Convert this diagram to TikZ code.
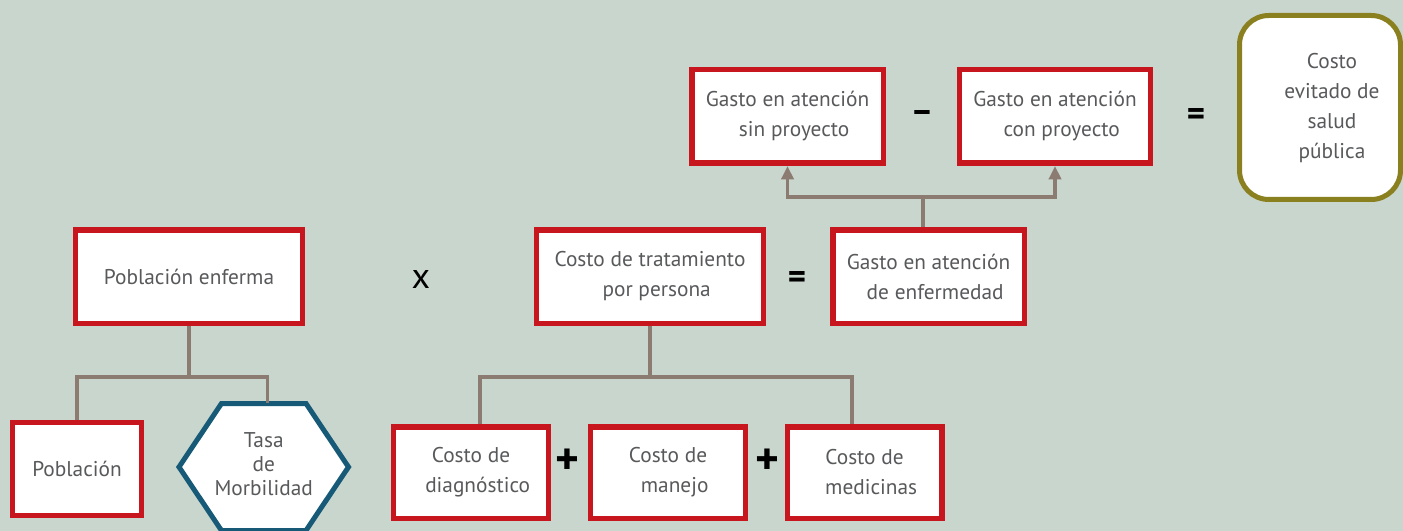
\documentclass[tikz,border=0pt]{standalone}
\usepackage{fontspec}
\setmainfont{PT Sans}
\usetikzlibrary{arrows.meta}

\definecolor{fondo}{RGB}{201,214,205}
\definecolor{rojo}{RGB}{200,22,30}
\definecolor{oliva}{RGB}{138,128,32}
\definecolor{azul}{RGB}{22,90,120}
\definecolor{cafe}{RGB}{139,123,113}
\definecolor{texto}{RGB}{88,89,91}

\newcommand{\sangria}{\hspace*{10pt}}

\tikzset{
  caja/.style={draw=rojo, line width=4.1pt, fill=white, text=texto, align=center,
    inner sep=0pt, font=\fontsize{16}{22.5}\selectfont},
  final/.style={draw=oliva, line width=3.75pt, fill=white, text=texto,
    rounded corners=22pt, inner sep=0pt, font=\fontsize{16}{22.5}\selectfont},
  hexa/.style={draw=azul, line width=3.75pt, fill=white},
  operador/.style={inner sep=0pt, text=black, font=\fontsize{26}{26}\selectfont\bfseries},
  linea/.style={draw=cafe, line width=2.5pt},
  flecha/.style={linea, -{Triangle[length=10pt,width=9pt]}}
}

\begin{document}
\begin{tikzpicture}[x=0.75pt,y=0.75pt,yscale=-1,xscale=1]
\useasboundingbox (0,0) rectangle (1403,531);
\clip (0,0) rectangle (1403,531);
\fill[fondo] (0,0) rectangle (1403,531);

% fila de arriba
\node[caja, minimum width=143.6pt, minimum height=70.1pt] (sinproy) at (787.5,116.5) {Gasto en atención\\ \sangria sin proyecto};
\node[caja, minimum width=143.6pt, minimum height=70.1pt] (conproy) at (1055,116.5) {Gasto en atención\\ \sangria con proyecto};
\node[final, minimum width=120.75pt, minimum height=138pt] (evitado) at (1320,107.5)
  {\hspace*{18pt}\begin{tabular}{@{}c@{}}Costo\\ evitado de\\ salud\\ pública\end{tabular}};
\node[operador] (menos) at (922,117) {--};
\node[operador] (igualA) at (1196,117) {=};

% fila del medio
\node[caja, minimum width=169.9pt, minimum height=70.1pt] (pobenf) at (189,276.5) {Población enferma};
\node[caja, minimum width=169.9pt, minimum height=70.1pt] (tratam) at (650,276.5) {Costo de tratamiento\\ \sangria por persona};
\node[caja, minimum width=143.6pt, minimum height=70.1pt] (gastoenf) at (928.5,276.5) {Gasto en atención\\ \sangria de enfermedad};
\node[operador, font=\fontsize{27}{27}\selectfont] (por) at (421,279) {x};
\node[operador] (igualB) at (797,280) {=};

% fila de abajo
\node[caja, minimum width=96.4pt, minimum height=69.4pt] (poblacion) at (77,469) {Población};
\draw[hexa] (179,467) -- (221.5,403.5) -- (306,403.5) -- (348.5,467) -- (306,530.5) -- (221.5,530.5) -- cycle;
\node[text=texto, align=center, inner sep=0pt, font=\fontsize{16}{18}\selectfont] (tasa) at (263.7,464) {Tasa\\ de\\ Morbilidad};
\coordinate (hexarriba) at (267.7,403);
\node[caja, minimum width=115.9pt, minimum height=68.6pt] (diagn) at (471,472.5) {Costo de\\ \sangria diagnóstico};
\node[caja, minimum width=115.9pt, minimum height=68.6pt] (manejo) at (668,472.5) {Costo de\\ \sangria manejo};
\node[caja, minimum width=115.9pt, minimum height=68.6pt] (medic) at (864.5,472.5) {Costo de\\ \sangria medicinas};
\node[operador, font=\fontsize{34}{34}\selectfont\bfseries] (masA) at (567,462) {+};
\node[operador, font=\fontsize{34}{34}\selectfont\bfseries] (masB) at (767,462) {+};

% conectores
\coordinate (ramaA) at (187,377);
\coordinate (ramaB) at (648,377);
\coordinate (ramaC) at (923,197);
\coordinate (ramaD) at (480,377);
\coordinate (ramaE) at (852,377);
\draw[linea] (pobenf) -- (pobenf |- ramaA);
\draw[linea] (poblacion) |- (ramaA) -| (hexarriba);
\draw[linea] (tratam) -- (tratam |- ramaB);
\draw[linea] (diagn.north -| ramaD) -- (ramaD) -- (ramaE) -- (medic.north -| ramaE);
\draw[linea] (ramaC |- gastoenf.north) -- (ramaC);
\draw[flecha] (ramaC) -| (sinproy);
\draw[flecha] (ramaC) -| (conproy);

\end{tikzpicture}
\end{document}
